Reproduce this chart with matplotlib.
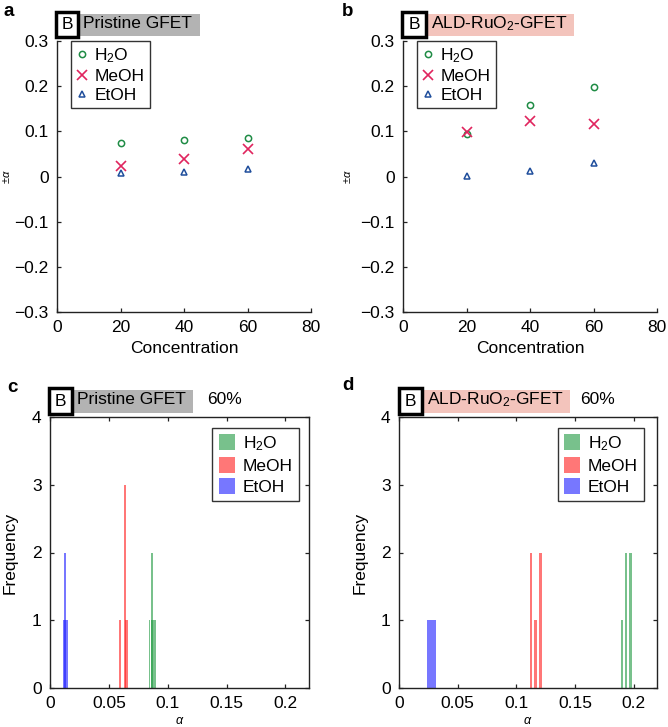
import numpy as np
import matplotlib
matplotlib.use("Agg")
import matplotlib.pyplot as plt
from matplotlib.patches import Rectangle, Patch
from matplotlib.ticker import FuncFormatter

plt.rcParams["font.family"] = ["Liberation Sans", "DejaVu Sans"]
plt.rcParams["mathtext.fontset"] = "custom"
plt.rcParams["mathtext.rm"] = "Liberation Sans"
plt.rcParams["mathtext.it"] = "Liberation Sans:italic"

# ---- data: panels a/b (alpha vs concentration) ----
conc = [20, 40, 60]
pristine_h2o = [0.075, 0.081, 0.086]
pristine_meoh = [0.023, 0.039, 0.061]
pristine_etoh = [0.007, 0.011, 0.017]
ald_h2o = [0.093, 0.158, 0.199]
ald_meoh = [0.099, 0.122, 0.117]
ald_etoh = [0.001, 0.013, 0.030]

# ---- data: panels c/d (histograms at 60 %), bin edges and counts ----
c_h2o_bins = [(0.0839, 0.0850), (0.0858, 0.0898), (0.0861, 0.0873)]
c_h2o_counts = [1, 1, 2]
c_meoh_bins = [(0.0585, 0.0600), (0.0637, 0.0665), (0.0631, 0.0648)]
c_meoh_counts = [1, 1, 3]
c_etoh_bins = [(0.0113, 0.0153), (0.0122, 0.0132)]
c_etoh_counts = [1, 2]

d_h2o_bins = [(0.1894, 0.1911), (0.1925, 0.1947), (0.1962, 0.1985)]
d_h2o_counts = [1, 2, 2]
d_meoh_bins = [(0.1114, 0.1137), (0.1154, 0.1177), (0.1194, 0.1216)]
d_meoh_counts = [2, 1, 2]
d_etoh_bins = [(0.0238, 0.0312)]
d_etoh_counts = [1]

W, H = 668, 727
fig = plt.figure(figsize=(W / 100, H / 100), dpi=100)


def fr(x0, y0, x1, y1):
    # pixel box (top-left origin) -> figure fraction rect
    return [x0 / W, 1 - y1 / H, (x1 - x0) / W, (y1 - y0) / H]


def fmt(v, pos):
    s = f"{v:g}"
    if s in ("-0", "0"):
        return "0"
    return s.replace("-", "\u2212")


def tag(x0, y0, x1, y1, gx1, label, color, extra=None, ex=None):
    fig.add_artist(Rectangle((x1 / W, 1 - (y1 - 1) / H), (gx1 - x1) / W, (y1 - y0 - 3) / H,
                             transform=fig.transFigure, fc=color, ec="none"))
    fig.add_artist(Rectangle((x0 / W, 1 - y1 / H), (x1 - x0) / W, (y1 - y0) / H,
                             transform=fig.transFigure, fc="white", ec="black", lw=2.5))
    fig.text((x0 + x1) / 2 / W, 1 - (y0 + y1) / 2 / H, "B", ha="center", va="center", fontsize=12.5)
    fig.text((x1 + 5) / W, 1 - ((y0 + y1) / 2 - 1) / H, label, ha="left", va="center", fontsize=12.5)
    if extra:
        fig.text(ex / W, 1 - ((y0 + y1) / 2 - 1) / H, extra, ha="left", va="center", fontsize=12.5)


green_m = "#1f8c45"
red_m = "#e0245e"
blue_m = "#1f4e9c"


def scatter_panel(rect, h2o, meoh, etoh, legx, ylx):
    ax = fig.add_axes(rect)
    ax.plot(conc, h2o, "o", mfc="none", mec=green_m, ms=4.5, mew=1.1, label="H$_2$O")
    ax.plot(conc, meoh, "x", color=red_m, ms=6.5, mew=1.2, label="MeOH")
    ax.plot(conc, etoh, "^", mfc="none", mec=blue_m, ms=5, mew=1.1, label="EtOH")
    ax.set_xlim(0, 80)
    ax.set_ylim(-0.3, 0.3)
    ax.set_xticks([0, 20, 40, 60, 80])
    ax.set_yticks([-0.3, -0.2, -0.1, 0, 0.1, 0.2, 0.3])
    ax.yaxis.set_major_formatter(FuncFormatter(fmt))
    ax.spines["top"].set_visible(False)
    ax.spines["right"].set_visible(False)
    for s in ("left", "bottom"):
        ax.spines[s].set_linewidth(1.0)
        ax.spines[s].set_color("#222222")
    ax.tick_params(direction="in", length=3, width=0.9, labelsize=12.5, pad=6,
                   colors="#222222", labelcolor="black")
    ax.set_xlabel("Concentration", fontsize=12.5, labelpad=4)
    ax.set_ylabel(r"$\pm\alpha$", fontsize=8)
    ax.yaxis.set_label_coords(ylx, 0.5)
    leg = ax.legend(loc="upper left", bbox_to_anchor=(legx, 1.0), fontsize=12.5, frameon=True,
                    fancybox=False, edgecolor="black", borderaxespad=0, handlelength=0.7,
                    handletextpad=0.35, labelspacing=0.22, borderpad=0.3)
    leg.get_frame().set_linewidth(1.0)
    return ax


def hist_panel(rect, groups, legx, ylx):
    ax = fig.add_axes(rect)
    for bins, counts, col in groups:
        for (lo, hi), n in zip(bins, counts):
            ax.bar(lo, n, width=hi - lo, align="edge", color=col, alpha=0.6, lw=0)
    ax.set_xlim(0, 0.22)
    ax.set_ylim(0, 4)
    ax.set_xticks([0, 0.05, 0.1, 0.15, 0.2])
    ax.set_yticks([0, 1, 2, 3, 4])
    ax.xaxis.set_major_formatter(FuncFormatter(fmt))
    for s in ax.spines.values():
        s.set_linewidth(1.0)
        s.set_color("#222222")
    ax.tick_params(direction="in", length=3, width=0.9, labelsize=12.5, pad=6, top=True, right=True,
                   colors="#222222", labelcolor="black")
    ax.set_xlabel(r"$\alpha$", fontsize=9, labelpad=3)
    ax.set_ylabel("Frequency", fontsize=12.5)
    ax.yaxis.set_label_coords(ylx, 0.5)
    handles = [Patch(fc=c, alpha=0.6, lw=0) for _, _, c in groups]
    leg = ax.legend(handles, ["H$_2$O", "MeOH", "EtOH"], loc="upper right", bbox_to_anchor=(legx, 0.959),
                    fontsize=12.5, fancybox=False, edgecolor="black", borderaxespad=0,
                    handlelength=0.95, handleheight=1.0, handletextpad=0.45, labelspacing=0.25,
                    borderpad=0.35)
    leg.get_frame().set_linewidth(1.0)
    return ax


hg = (0.12, 0.6, 0.25)
hr = (1.0, 0.11, 0.11)
hb = (0.11, 0.11, 1.0)

scatter_panel(fr(57, 41, 311, 312), pristine_h2o, pristine_meoh, pristine_etoh, 0.055, -0.177)
scatter_panel(fr(403, 41, 657, 312), ald_h2o, ald_meoh, ald_etoh, 0.055, -0.197)
hist_panel(fr(50, 417, 309, 688),
           [(c_h2o_bins, c_h2o_counts, hg), (c_meoh_bins, c_meoh_counts, hr), (c_etoh_bins, c_etoh_counts, hb)],
           0.961, -0.124)
hist_panel(fr(399, 417, 657, 688),
           [(d_h2o_bins, d_h2o_counts, hg), (d_meoh_bins, d_meoh_counts, hr), (d_etoh_bins, d_etoh_counts, hb)],
           0.95, -0.12)

tag(56, 12, 78, 37, 200, "Pristine GFET", "#b3b3b3")
tag(402, 12, 426, 37, 574, "ALD-RuO$_2$-GFET", "#f3c4bc")
tag(49, 388, 72, 414, 193, "Pristine GFET", "#b3b3b3", "60%", 207)
tag(399, 388, 422, 414, 570, "ALD-RuO$_2$-GFET", "#f3c4bc", "60%", 580)

for lab, x, y in [("a", 4, 11), ("b", 342, 11), ("c", 7, 388), ("d", 342, 386)]:
    fig.text(x / W, 1 - y / H, lab, fontsize=13.5, fontweight="bold", ha="left", va="center")

fig.savefig("out.png", dpi=100)
